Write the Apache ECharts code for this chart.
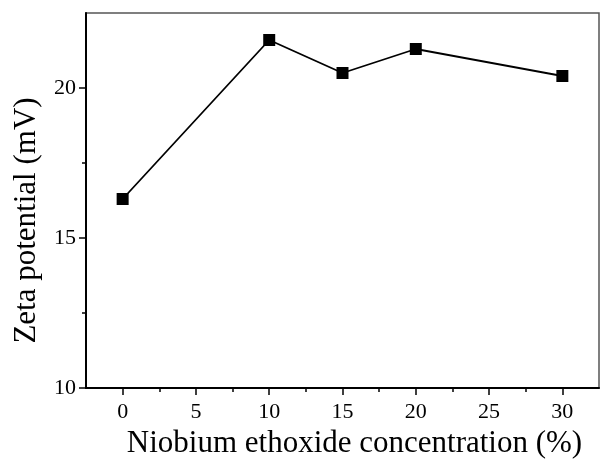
<!DOCTYPE html>
<html><head><meta charset="utf-8">
<script src="https://cdn.jsdelivr.net/npm/echarts@6/dist/echarts.min.js"></script>
<style>html,body{margin:0;padding:0;background:#fff}#c{width:600px;height:459px}</style>
</head><body><div id="c"></div>
<script>
var concentration = [0, 10, 15, 20, 30];
var zeta = [16.3, 21.6, 20.5, 21.3, 20.4];
var xTicks = [0, 5, 10, 15, 20, 25, 30];
var xMinorTicks = [2.5, 7.5, 12.5, 17.5, 22.5, 27.5];
var yTicks = [10, 15, 20];
var yMinorTicks = [12.5, 17.5];

var font = 'Liberation Serif';
var chart = echarts.init(document.getElementById('c'));
var data = concentration.map(function (x, i) { return [x, zeta[i]]; });
chart.setOption({
  animation: false,
  grid: { left: 86, right: 1, top: 13, bottom: 71, outerBoundsMode: 'none', containLabel: false,
          show: true, borderColor: '#555', borderWidth: 1.5 },
  xAxis: [{
    type: 'value', min: -2.5, max: 32.5, interval: 2.5,
    name: 'Niobium ethoxide concentration (%)', nameLocation: 'middle', nameGap: 39,
    nameTextStyle: { fontFamily: font, fontSize: 31, color: '#000', padding: [0, 0, 0, 24] },
    axisLine: { onZero: false, lineStyle: { color: '#000', width: 2 } },
    axisTick: { customValues: xTicks, length: 7, inside: false, lineStyle: { color: '#000', width: 1.5 } },
    axisLabel: { customValues: xTicks, fontFamily: font, fontSize: 22, color: '#000', margin: 13 },
    splitLine: { show: false }
  }, {
    type: 'value', min: -2.5, max: 32.5, interval: 2.5, position: 'bottom',
    axisLine: { show: false, onZero: false },
    axisTick: { customValues: xMinorTicks, length: 4, lineStyle: { color: '#000', width: 1.5 } },
    axisLabel: { show: false },
    splitLine: { show: false }
  }],
  yAxis: [{
    type: 'value', min: 10, max: 22.5, interval: 2.5,
    name: 'Zeta potential (mV)', nameLocation: 'middle', nameGap: 44,
    nameTextStyle: { fontFamily: font, fontSize: 31, color: '#000', padding: [0, 40, 0, 0] },
    axisLine: { show: true, onZero: false, lineStyle: { color: '#000', width: 2 } },
    axisTick: { show: true, customValues: yTicks, length: 7, lineStyle: { color: '#000', width: 1.5 } },
    axisLabel: { customValues: yTicks, fontFamily: font, fontSize: 22, color: '#000', margin: 10 },
    splitLine: { show: false }
  }, {
    type: 'value', min: 10, max: 22.5, interval: 2.5, position: 'left',
    axisLine: { show: false, onZero: false },
    axisTick: { show: true, customValues: yMinorTicks, length: 4, lineStyle: { color: '#000', width: 1.5 } },
    axisLabel: { show: false },
    splitLine: { show: false }
  }],
  series: [{
    type: 'line', data: data, xAxisIndex: 0, yAxisIndex: 0,
    symbol: 'rect', symbolSize: 12,
    itemStyle: { color: '#000' },
    lineStyle: { color: '#000', width: 1.8 }
  }]
});
</script></body></html>
